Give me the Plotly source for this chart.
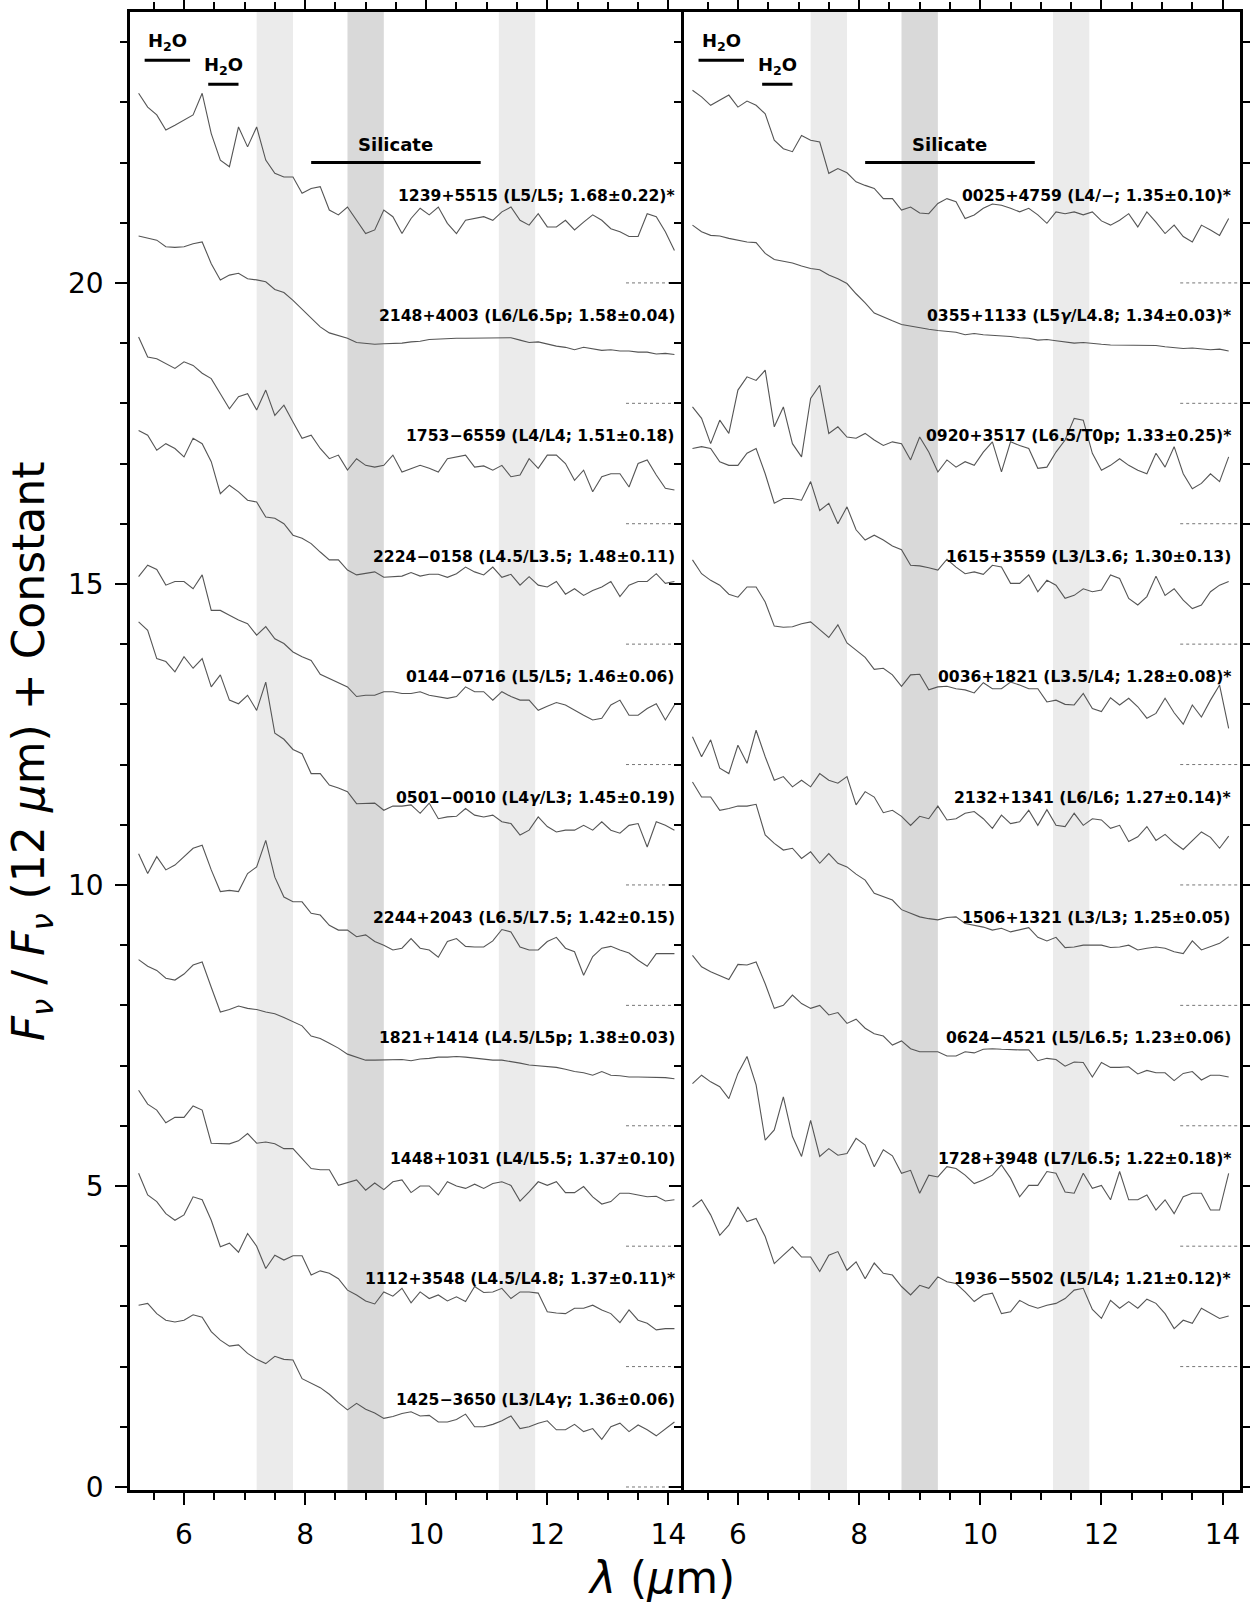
import plotly.graph_objects as go

# ---------------- data ----------------
WAVE = [5.25, 5.40, 5.55, 5.70, 5.85, 6.00, 6.15, 6.30, 6.45, 6.60,
        6.75, 6.90, 7.05, 7.20, 7.35, 7.50, 7.65, 7.80, 7.95, 8.10,
        8.25, 8.40, 8.55, 8.70, 8.85, 9.00, 9.15, 9.30, 9.45, 9.60,
        9.75, 9.90, 10.05, 10.20, 10.35, 10.50, 10.65, 10.80, 10.95, 11.10,
        11.25, 11.40, 11.55, 11.70, 11.85, 12.00, 12.15, 12.30, 12.45, 12.60,
        12.75, 12.90, 13.05, 13.20, 13.35, 13.50, 13.65, 13.80, 13.95, 14.10]

# left panel, bottom (offset 0) to top (offset 20)
LEFT_LABELS = [
    "1425−3650 (L3/L4<i>γ</i>; 1.36±0.06)",
    "1112+3548 (L4.5/L4.8; 1.37±0.11)*",
    "1448+1031 (L4/L5.5; 1.37±0.10)",
    "1821+1414 (L4.5/L5p; 1.38±0.03)",
    "2244+2043 (L6.5/L7.5; 1.42±0.15)",
    "0501−0010 (L4<i>γ</i>/L3; 1.45±0.19)",
    "0144−0716 (L5/L5; 1.46±0.06)",
    "2224−0158 (L4.5/L3.5; 1.48±0.11)",
    "1753−6559 (L4/L4; 1.51±0.18)",
    "2148+4003 (L6/L6.5p; 1.58±0.04)",
    "1239+5515 (L5/L5; 1.68±0.22)*",
]
LEFT_OFFSETS = [0, 2, 4, 6, 8, 10, 12, 14, 16, 18, 20]

F_1425 = [3.02, 3.05, 2.88, 2.77, 2.74, 2.77, 2.86, 2.82, 2.58, 2.44,
          2.34, 2.36, 2.22, 2.12, 2.05, 2.17, 2.12, 2.11, 1.80, 1.72,
          1.65, 1.54, 1.40, 1.28, 1.39, 1.29, 1.23, 1.14, 1.17, 1.22,
          1.25, 1.18, 1.19, 1.08, 1.08, 1.12, 1.21, 1.00, 1.00, 1.04,
          1.10, 1.18, 0.97, 1.00, 1.06, 1.10, 0.95, 0.95, 1.04, 0.92,
          0.97, 0.79, 1.00, 1.06, 0.92, 1.03, 0.95, 0.85, 0.97, 1.08]
F_1112 = [3.21, 2.85, 2.74, 2.54, 2.43, 2.52, 2.82, 2.77, 2.43, 1.99,
          2.05, 1.90, 2.21, 2.00, 1.63, 1.85, 1.77, 1.84, 1.84, 1.52,
          1.59, 1.55, 1.46, 1.27, 1.19, 1.09, 1.04, 1.24, 1.17, 1.30,
          1.06, 1.24, 1.13, 1.19, 1.09, 1.16, 1.08, 1.33, 1.23, 1.24,
          1.30, 1.13, 1.24, 1.24, 1.22, 0.91, 0.89, 0.88, 0.97, 0.97,
          1.02, 0.94, 0.88, 0.73, 0.94, 0.77, 0.72, 0.61, 0.63, 0.63]
F_1448 = [2.59, 2.36, 2.26, 2.05, 2.14, 2.14, 2.33, 2.26, 1.71, 1.71,
          1.70, 1.75, 1.87, 1.71, 1.73, 1.70, 1.62, 1.62, 1.46, 1.29,
          1.27, 1.27, 1.01, 1.05, 1.10, 0.93, 1.05, 0.94, 1.07, 1.10,
          0.89, 1.00, 1.00, 0.85, 1.07, 1.00, 0.96, 1.03, 0.96, 1.04,
          1.07, 1.01, 0.75, 0.90, 1.07, 1.01, 1.07, 0.89, 0.89, 0.99,
          0.82, 0.70, 0.74, 0.88, 0.88, 0.85, 0.82, 0.83, 0.75, 0.77]
F_1821 = [2.76, 2.65, 2.58, 2.45, 2.42, 2.52, 2.67, 2.72, 2.30, 1.89,
          1.93, 1.99, 1.95, 1.93, 1.89, 1.86, 1.80, 1.73, 1.66, 1.49,
          1.45, 1.37, 1.29, 1.19, 1.14, 1.09, 1.09, 1.09, 1.09, 1.10,
          1.08, 1.11, 1.12, 1.14, 1.14, 1.15, 1.14, 1.12, 1.10, 1.09,
          1.09, 1.07, 1.04, 1.01, 1.00, 0.99, 0.97, 0.94, 0.90, 0.88,
          0.84, 0.90, 0.84, 0.83, 0.81, 0.81, 0.81, 0.80, 0.80, 0.78]
F_2244 = [2.52, 2.19, 2.47, 2.25, 2.33, 2.47, 2.61, 2.66, 2.25, 1.89,
          1.91, 1.89, 2.19, 2.30, 2.74, 2.13, 1.80, 1.72, 1.72, 1.53,
          1.50, 1.33, 1.25, 1.25, 1.14, 1.17, 1.06, 1.00, 0.92, 0.95,
          1.11, 0.95, 0.92, 0.80, 1.06, 1.11, 0.98, 0.97, 0.97, 1.07,
          1.26, 1.22, 0.97, 0.92, 0.92, 1.06, 1.13, 0.95, 0.89, 0.50,
          0.81, 0.95, 0.98, 0.92, 0.87, 0.75, 0.65, 0.86, 0.86, 0.86]
F_0501 = [4.37, 4.23, 3.76, 3.71, 3.54, 3.79, 3.60, 3.76, 3.29, 3.49,
          3.07, 3.01, 3.15, 2.90, 3.37, 2.52, 2.42, 2.25, 2.18, 1.85,
          1.85, 1.66, 1.61, 1.55, 1.35, 1.35, 1.36, 1.24, 1.31, 1.31,
          1.33, 1.19, 1.36, 1.10, 1.13, 1.14, 1.27, 1.16, 1.13, 1.16,
          1.05, 1.02, 0.83, 0.91, 1.13, 0.97, 0.88, 0.91, 0.91, 0.99,
          0.91, 1.05, 0.91, 0.86, 0.99, 1.02, 0.63, 1.05, 0.99, 0.91]
F_0144 = [3.12, 3.31, 3.24, 2.98, 3.04, 3.04, 2.92, 3.15, 2.56, 2.56,
          2.48, 2.40, 2.34, 2.15, 2.29, 2.09, 2.01, 1.87, 1.79, 1.73,
          1.50, 1.43, 1.37, 1.29, 1.13, 1.15, 1.15, 1.21, 1.21, 1.18,
          1.18, 1.21, 1.15, 1.13, 1.10, 1.13, 1.29, 1.21, 1.21, 1.07,
          1.21, 1.13, 1.07, 1.07, 0.90, 0.97, 1.03, 0.99, 0.90, 0.82,
          0.74, 0.77, 0.99, 1.07, 0.82, 0.82, 0.93, 1.01, 0.74, 0.99]
F_2224 = [3.55, 3.47, 3.22, 3.33, 3.25, 3.11, 3.42, 3.33, 3.03, 2.50,
          2.64, 2.53, 2.39, 2.36, 2.11, 2.09, 2.00, 1.81, 1.76, 1.67,
          1.53, 1.40, 1.40, 1.23, 1.15, 1.17, 1.20, 1.11, 1.12, 1.13,
          1.19, 1.13, 1.16, 1.16, 1.11, 1.17, 1.28, 1.20, 1.15, 1.28,
          1.11, 1.16, 0.98, 1.12, 0.98, 0.95, 1.04, 0.83, 0.92, 0.81,
          0.89, 0.95, 1.04, 0.79, 0.98, 1.04, 1.04, 1.17, 1.01, 1.04]
F_1753 = [3.10, 2.77, 2.74, 2.66, 2.58, 2.69, 2.63, 2.50, 2.41, 2.16,
          1.91, 2.11, 2.16, 1.89, 2.22, 1.80, 1.97, 1.69, 1.42, 1.47,
          1.25, 1.08, 1.14, 0.89, 1.08, 0.97, 0.94, 0.97, 1.14, 0.86,
          0.92, 0.97, 0.92, 0.86, 1.08, 1.11, 1.14, 0.94, 0.96, 0.89,
          0.97, 0.78, 0.81, 1.08, 0.92, 1.14, 1.14, 1.00, 0.72, 0.89,
          0.53, 0.78, 0.83, 0.83, 0.61, 1.00, 1.06, 0.81, 0.59, 0.56]
F_2148 = [2.78, 2.74, 2.71, 2.60, 2.59, 2.60, 2.65, 2.68, 2.32, 2.05,
          2.13, 2.16, 2.07, 2.05, 2.02, 1.89, 1.84, 1.71, 1.56, 1.41,
          1.27, 1.17, 1.12, 1.08, 1.01, 0.99, 0.98, 0.99, 0.99, 1.00,
          1.02, 1.03, 1.06, 1.07, 1.08, 1.08, 1.08, 1.08, 1.08, 1.08,
          1.08, 1.09, 1.05, 1.01, 1.02, 0.98, 0.95, 0.93, 0.89, 0.93,
          0.91, 0.88, 0.89, 0.87, 0.87, 0.85, 0.85, 0.82, 0.83, 0.81]
F_1239 = [3.15, 2.92, 2.79, 2.54, 2.62, 2.70, 2.79, 3.15, 2.48, 2.04,
          1.93, 2.59, 2.26, 2.59, 2.04, 1.82, 1.76, 1.76, 1.49, 1.57,
          1.60, 1.21, 1.13, 1.26, 1.04, 0.82, 0.88, 1.21, 1.10, 0.82,
          1.07, 1.24, 1.13, 1.26, 0.99, 0.82, 1.04, 1.07, 1.10, 1.04,
          1.18, 1.26, 1.04, 0.96, 1.15, 0.93, 0.93, 1.04, 0.88, 1.01,
          1.13, 1.04, 0.90, 0.85, 0.77, 0.77, 1.15, 1.10, 0.85, 0.54]
LEFT_FLUX = [F_1425, F_1112, F_1448, F_1821, F_2244, F_0501,
             F_0144, F_2224, F_1753, F_2148, F_1239]

# right panel, bottom (offset 2) to top (offset 20)
RIGHT_LABELS = [
    "1936−5502 (L5/L4; 1.21±0.12)*",
    "1728+3948 (L7/L6.5; 1.22±0.18)*",
    "0624−4521 (L5/L6.5; 1.23±0.06)",
    "1506+1321 (L3/L3; 1.25±0.05)",
    "2132+1341 (L6/L6; 1.27±0.14)*",
    "0036+1821 (L3.5/L4; 1.28±0.08)*",
    "1615+3559 (L3/L3.6; 1.30±0.13)",
    "0920+3517 (L6.5/T0p; 1.33±0.25)*",
    "0355+1133 (L5<i>γ</i>/L4.8; 1.34±0.03)*",
    "0025+4759 (L4/−; 1.35±0.10)*",
]
RIGHT_OFFSETS = [2, 4, 6, 8, 10, 12, 14, 16, 18, 20]

F_1936 = [2.65, 2.77, 2.52, 2.18, 2.35, 2.65, 2.41, 2.46, 2.16, 1.71,
          1.85, 1.99, 1.82, 1.82, 1.58, 1.85, 1.91, 1.60, 1.74, 1.46,
          1.72, 1.55, 1.52, 1.33, 1.19, 1.35, 1.30, 1.49, 1.41, 1.38,
          1.24, 1.08, 1.19, 1.22, 0.88, 0.91, 1.10, 1.02, 0.97, 1.02,
          1.05, 1.13, 1.27, 1.30, 0.95, 0.80, 1.10, 0.97, 1.08, 0.97,
          1.12, 1.05, 0.88, 0.63, 0.77, 0.72, 0.97, 0.88, 0.80, 0.84]
F_1728 = [2.70, 2.84, 2.73, 2.65, 2.45, 2.87, 3.15, 2.68, 1.76, 1.93,
          2.48, 1.82, 1.49, 2.09, 1.49, 1.62, 1.51, 1.54, 1.79, 1.68,
          1.32, 1.60, 1.50, 1.21, 1.26, 0.88, 1.18, 1.15, 1.32, 1.29,
          1.18, 1.04, 1.10, 1.18, 1.35, 1.13, 0.82, 1.01, 1.01, 1.24,
          1.21, 0.90, 0.88, 1.21, 0.96, 1.01, 0.77, 1.24, 0.77, 0.77,
          0.85, 0.60, 0.77, 0.54, 0.82, 0.88, 0.88, 0.60, 0.60, 1.21]
F_0624 = [2.83, 2.64, 2.56, 2.50, 2.43, 2.68, 2.67, 2.72, 2.36, 1.95,
          2.00, 2.17, 2.03, 1.95, 2.00, 1.84, 1.88, 1.70, 1.77, 1.62,
          1.53, 1.49, 1.34, 1.41, 1.28, 1.23, 1.23, 1.23, 1.16, 1.16,
          1.23, 1.21, 1.27, 1.28, 1.27, 1.26, 1.26, 1.26, 1.08, 1.12,
          1.10, 0.99, 1.06, 1.05, 0.81, 1.05, 0.97, 0.97, 0.98, 0.86,
          0.92, 0.88, 0.88, 0.75, 0.87, 0.90, 0.76, 0.84, 0.84, 0.81]
F_1506 = [3.71, 3.46, 3.46, 3.24, 3.27, 3.31, 3.31, 3.34, 2.83, 2.69,
          2.58, 2.61, 2.44, 2.55, 2.36, 2.52, 2.36, 2.30, 2.18, 2.08,
          1.86, 1.80, 1.75, 1.59, 1.53, 1.47, 1.44, 1.42, 1.46, 1.47,
          1.36, 1.33, 1.30, 1.25, 1.28, 1.22, 1.25, 1.29, 1.13, 1.07,
          1.13, 0.96, 0.97, 1.00, 1.00, 1.00, 0.96, 0.97, 1.00, 0.92,
          0.95, 0.97, 0.95, 0.89, 0.86, 1.07, 0.92, 0.97, 1.03, 1.14]
F_2132 = [2.46, 2.13, 2.41, 1.94, 1.85, 2.32, 2.02, 2.57, 2.13, 1.74,
          1.80, 1.63, 1.74, 1.63, 1.85, 1.74, 1.69, 1.80, 1.33, 1.55,
          1.46, 1.20, 1.24, 1.14, 0.99, 1.14, 1.10, 1.31, 1.08, 1.10,
          1.19, 1.22, 1.10, 0.94, 1.16, 1.02, 1.05, 1.24, 0.99, 1.25,
          0.99, 0.97, 1.19, 0.99, 1.10, 1.08, 0.94, 0.99, 0.72, 0.80,
          0.97, 0.74, 0.84, 0.70, 0.59, 0.74, 0.88, 0.79, 0.61, 0.81]
F_0036 = [3.40, 3.17, 3.06, 2.98, 2.83, 2.78, 2.95, 2.95, 2.70, 2.30,
          2.28, 2.29, 2.34, 2.37, 2.24, 2.11, 2.32, 2.02, 1.90, 1.78,
          1.58, 1.60, 1.49, 1.30, 1.49, 1.50, 1.24, 1.29, 1.30, 1.26,
          1.24, 1.19, 1.36, 1.26, 1.26, 1.37, 1.32, 1.26, 1.26, 1.04,
          1.07, 1.00, 0.99, 1.18, 0.93, 0.88, 1.11, 0.99, 1.10, 0.96,
          0.77, 0.85, 1.10, 0.86, 0.67, 0.99, 0.79, 1.07, 1.32, 0.60]
F_1615 = [3.25, 3.28, 3.25, 3.03, 2.97, 2.97, 3.17, 3.25, 2.83, 2.34,
          2.42, 2.42, 2.39, 2.70, 2.22, 2.34, 2.00, 2.28, 1.90, 1.73,
          1.81, 1.73, 1.63, 1.57, 1.31, 1.30, 1.27, 1.23, 1.41, 1.28,
          1.17, 1.20, 1.16, 1.31, 1.28, 1.01, 1.01, 1.15, 0.87, 1.06,
          0.98, 0.76, 0.81, 0.92, 0.87, 0.90, 1.15, 1.09, 0.76, 0.65,
          0.79, 1.13, 0.81, 0.92, 0.73, 0.59, 0.65, 0.87, 0.98, 1.04]
F_0920 = [1.94, 1.75, 1.33, 1.72, 1.50, 2.22, 2.44, 2.38, 2.55, 1.61,
          1.94, 1.33, 1.11, 2.08, 2.30, 1.50, 1.61, 1.44, 1.42, 1.50,
          1.39, 1.30, 1.36, 1.33, 1.06, 1.44, 1.19, 0.86, 1.06, 0.94,
          1.03, 0.97, 1.19, 1.36, 0.86, 1.36, 1.30, 1.25, 0.92, 0.94,
          1.19, 1.39, 1.75, 1.72, 1.17, 0.89, 0.97, 1.08, 0.97, 0.89,
          0.83, 1.17, 0.94, 1.28, 0.83, 0.58, 0.67, 0.83, 0.70, 1.11]
F_0355 = [2.96, 2.85, 2.79, 2.78, 2.74, 2.71, 2.68, 2.67, 2.49, 2.39,
          2.36, 2.33, 2.28, 2.24, 2.22, 2.13, 2.07, 1.99, 1.82, 1.67,
          1.50, 1.43, 1.37, 1.31, 1.28, 1.26, 1.23, 1.21, 1.19, 1.18,
          1.14, 1.16, 1.14, 1.13, 1.13, 1.11, 1.09, 1.08, 1.05, 1.06,
          1.04, 1.02, 1.00, 1.01, 0.99, 0.98, 0.97, 0.97, 0.96, 0.97,
          0.97, 0.96, 0.94, 0.93, 0.91, 0.92, 0.90, 0.89, 0.90, 0.87]
F_0025 = [3.20, 3.09, 2.95, 3.04, 3.12, 2.92, 3.02, 2.95, 2.81, 2.37,
          2.23, 2.18, 2.45, 2.37, 2.34, 1.82, 1.90, 1.83, 1.68, 1.62,
          1.57, 1.40, 1.40, 1.21, 1.26, 1.16, 1.15, 1.32, 1.40, 1.35,
          1.07, 1.13, 1.24, 1.31, 1.29, 1.24, 1.18, 1.24, 1.13, 0.99,
          1.18, 1.15, 1.18, 1.13, 1.18, 1.03, 0.96, 1.04, 1.15, 0.93,
          1.18, 1.01, 0.82, 0.96, 0.77, 0.68, 0.96, 0.88, 0.79, 1.07]
RIGHT_FLUX = [F_1936, F_1728, F_0624, F_1506, F_2132, F_0036,
              F_1615, F_0920, F_0355, F_0025]

# shaded wavelength bands (start, end, shade)
BANDS = [(7.2, 7.8, "#ebebeb"), (8.7, 9.3, "#d9d9d9"), (11.2, 11.8, "#ebebeb")]
# absorption feature markers (label, start, end, level)
FEATURES = [("H<sub>2</sub>O", 5.35, 6.10, 23.70),
            ("H<sub>2</sub>O", 6.40, 6.90, 23.30),
            ("Silicate", 8.10, 10.90, 22.00)]
ZERO_X = [13.3, 14.35]

# ---------------- figure ----------------
FONT = "DejaVu Sans"
SPEC_COLOR = "#555555"
fig = go.Figure()

panels = [("x", "y", LEFT_LABELS, LEFT_OFFSETS, LEFT_FLUX, 14.13),
          ("x2", "y2", RIGHT_LABELS, RIGHT_OFFSETS, RIGHT_FLUX, 14.16)]

for xa, ya, labels, offsets, fluxes, xlab in panels:
    for lab, off, flux in zip(labels, offsets, fluxes):
        fig.add_trace(go.Scatter(
            x=WAVE, y=[v + off for v in flux], xaxis=xa, yaxis=ya,
            mode="lines", line=dict(color=SPEC_COLOR, width=1.1),
            showlegend=False, hoverinfo="skip"))
        fig.add_trace(go.Scatter(
            x=ZERO_X, y=[off, off], xaxis=xa, yaxis=ya, mode="lines",
            line=dict(color="#777777", width=1, dash="dot"),
            showlegend=False, hoverinfo="skip"))
        fig.add_annotation(
            x=xlab, y=off + 1.45, xref=xa, yref=ya, text="<b>" + lab + "</b>",
            showarrow=False, xanchor="right", yanchor="middle", borderpad=0,
            font=dict(family=FONT, size=15.6, color="black"))
    for x0, x1, col in BANDS:
        fig.add_shape(type="rect", xref=xa, yref="paper", x0=x0, x1=x1,
                      y0=0, y1=1, fillcolor=col, line=dict(width=0),
                      layer="below")
    for name, x0, x1, lev in FEATURES:
        fig.add_shape(type="line", xref=xa, yref=ya, x0=x0, x1=x1,
                      y0=lev, y1=lev, line=dict(color="black", width=3))
        fig.add_annotation(
            x=(x0 + x1) / 2, y=lev + 0.3, xref=xa, yref=ya,
            text="<b>" + name + "</b>", showarrow=False,
            xanchor="center", yanchor="middle",
            font=dict(family=FONT, size=18, color="black"))

W, H = 1250, 1603
ML, MR, MT, MB = 130, 10, 12, 113
split = 553.7 / (W - ML - MR)

xcommon = dict(tick0=0, dtick=2, ticks="outside", ticklen=12, tickwidth=2,
               showline=True, linewidth=2.5, linecolor="black", mirror="ticks",
               minor=dict(dtick=0.5, tick0=0, ticks="outside", ticklen=7,
                          tickwidth=1.5, tickcolor="black"),
               tickfont=dict(family=FONT, size=28, color="black"),
               ticklabelstandoff=6, automargin=False,
               showgrid=False, zeroline=False, tickcolor="black")
ycommon = dict(range=[-0.05, 24.5], tick0=0, dtick=5, ticks="outside",
               ticklen=12, tickwidth=2, showline=True, linewidth=2.5,
               linecolor="black",
               minor=dict(dtick=1, tick0=0, ticks="outside", ticklen=7,
                          tickwidth=1.5, tickcolor="black"),
               tickfont=dict(family=FONT, size=28, color="black"),
               ticklabelstandoff=6, automargin=False,
               showgrid=False, zeroline=False, tickcolor="black")

fig.update_layout(
    width=W, height=H, autosize=False,
    margin=dict(l=ML, r=MR, t=MT, b=MB, autoexpand=False),
    paper_bgcolor="white", plot_bgcolor="white",
    xaxis=dict(domain=[0, split], range=[5.108, 14.253], anchor="y", **xcommon),
    xaxis2=dict(domain=[split, 1], range=[5.105, 14.287], anchor="y2", **xcommon),
    yaxis=dict(domain=[0, 1], anchor="x", mirror=False, **ycommon),
    yaxis2=dict(domain=[0, 1], anchor="x2", mirror="ticks",
                showticklabels=False, **ycommon),
    font=dict(family=FONT),
)

# axis titles
fig.add_annotation(x=0.479, y=-0.059, xref="paper", yref="paper",
                   text="<i>λ</i> (<i>μ</i>m)", showarrow=False,
                   xanchor="center", yanchor="middle",
                   font=dict(family=FONT, size=44, color="black"))
fig.add_annotation(x=-0.089, y=0.5, xref="paper", yref="paper",
                   text="<i>F</i><sub><i>ν</i></sub> / <i>F</i><sub><i>ν</i></sub> (12 <i>μ</i>m) + Constant",
                   showarrow=False, textangle=-90,
                   xanchor="center", yanchor="middle",
                   font=dict(family=FONT, size=44, color="black"))

fig.write_html("out.html")
